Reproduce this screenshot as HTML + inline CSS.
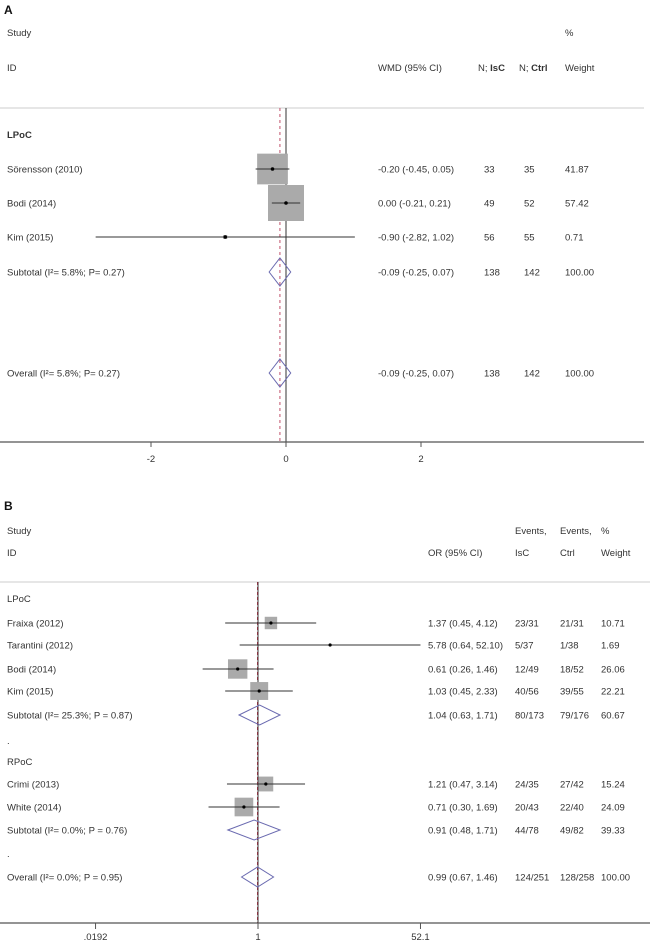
<!DOCTYPE html>
<html><head><meta charset="utf-8"><style>
html,body{margin:0;padding:0;background:#fff;width:650px;height:942px;overflow:hidden}
svg text{font-family:"Liberation Sans",sans-serif;font-size:9.5px;fill:#333}
</style></head><body>
<svg id="chart" width="650" height="942" xmlns="http://www.w3.org/2000/svg">
<g id="panelA"></g>
<g id="panelB"></g>
</svg>
<script>
// Panel A data
const aLabels = ["Sörensson  (2010)", "Bodi  (2014)", "Kim (2015)"];
const aEst = [-0.20, 0.00, -0.90];
const aLo = [-0.45, -0.21, -2.82];
const aHi = [0.05, 0.21, 1.02];
const aText = ["-0.20 (-0.45, 0.05)", "0.00 (-0.21, 0.21)", "-0.90 (-2.82, 1.02)"];
const aNIsc = ["33", "49", "56"];
const aNCtrl = ["35", "52", "55"];
const aWeight = [41.87, 57.42, 0.71];
const aSub = [-0.09, -0.25, 0.07];
const aTicks = [-2, 0, 2];
// Panel B data
const bLabels = ["Fraixa (2012)", "Tarantini  (2012)", "Bodi  (2014)", "Kim (2015)", "Crimi  (2013)", "White (2014)"];
const bEst = [1.37, 5.78, 0.61, 1.03, 1.21, 0.71];
const bLo = [0.45, 0.64, 0.26, 0.45, 0.47, 0.30];
const bHi = [4.12, 52.10, 1.46, 2.33, 3.14, 1.69];
const bText = ["1.37 (0.45, 4.12)", "5.78 (0.64, 52.10)", "0.61 (0.26, 1.46)", "1.03 (0.45, 2.33)", "1.21 (0.47, 3.14)", "0.71 (0.30, 1.69)"];
const bEvI = ["23/31", "5/37", "12/49", "40/56", "24/35", "20/43"];
const bEvC = ["21/31", "1/38", "18/52", "39/55", "27/42", "22/40"];
const bWeight = [10.71, 1.69, 26.06, 22.21, 15.24, 24.09];
const bSub1 = [1.04, 0.63, 1.71];
const bSub2 = [0.91, 0.48, 1.71];
const bOverall = [0.99, 0.67, 1.46];
const bTicks = [0.0192, 1, 52.1];
const bTickLabels = [".0192", "1", "52.1"];

const NS = "http://www.w3.org/2000/svg";
function mk(parent, tag, attrs, txt){const e=document.createElementNS(NS,tag);for(const k in attrs)e.setAttribute(k,attrs[k]);if(txt!==undefined)e.textContent=txt;parent.appendChild(e);return e;}

// ---------- Panel A ----------
const A = document.getElementById('panelA');
const xA = v => 286 + v*67.5;
const aRowY = [169, 203, 237];
let t;
t=mk(A,'text',{x:4,y:14,style:'font-size:12px;font-weight:bold;fill:#111'},'A');


const aHead=[[7,36,'Study'],[565,36,'%'],[7,71,'ID'],[378,71,'WMD (95% CI)'],[565,71,'Weight']];
aHead.forEach(h=>{const e=mk(A,'text',{x:h[0],y:h[1]},h[2]);});
t=mk(A,'text',{x:478,y:71});t.innerHTML='N; <tspan font-weight="bold">IsC</tspan>';

t=mk(A,'text',{x:519,y:71});t.innerHTML='N; <tspan font-weight="bold">Ctrl</tspan>';

let l=mk(A,'line',{x1:0,y1:108,x2:644,y2:108,stroke:'#ddd','stroke-width':1.5});

t=mk(A,'text',{x:7,y:138,'font-weight':'bold'},'LPoC');

l=mk(A,'line',{x1:xA(0),y1:108,x2:xA(0),y2:442,stroke:'#333','stroke-width':1});

l=mk(A,'line',{x1:xA(aSub[0]),y1:108,x2:xA(aSub[0]),y2:442,stroke:'#c0506a','stroke-width':1,'stroke-dasharray':'3,3'});

aLabels.forEach((lab,i)=>{
  const y=aRowY[i];
  const g=mk(A,'g',{});
  
  const s=4.75*Math.sqrt(aWeight[i]);
  if(s>3){const r=mk(g,'rect',{x:xA(aEst[i])-s/2,y:y-s/2,width:s,height:s,fill:'#aaa'});
  }
  const ci=mk(g,'line',{x1:xA(aLo[i]),y1:y,x2:xA(aHi[i]),y2:y,stroke:'#333','stroke-width':1});
  
  const d=mk(g,'circle',{cx:xA(aEst[i]),cy:y,r:1.8,fill:'#000'});
  
  [[7,lab],[378,aText[i]],[484,aNIsc[i]],[524,aNCtrl[i]],[565,aWeight[i].toFixed(2)]].forEach(c=>{
    const e=mk(g,'text',{x:c[0],y:y+3.5},c[1]);});
});
function diamondA(y,name,label){
  const g=mk(A,'g',{});
  
  const p=mk(g,'polygon',{points:`${xA(aSub[1])},${y} ${xA(aSub[0])},${y-14} ${xA(aSub[2])},${y} ${xA(aSub[0])},${y+14}`,fill:'none',stroke:'#6a6ab0','stroke-width':1});
  
  [[7,label],[378,'-0.09 (-0.25, 0.07)'],[484,'138'],[524,'142'],[565,'100.00']].forEach(c=>{
    const e=mk(g,'text',{x:c[0],y:y+3.5},c[1]);});
}
diamondA(272,'subtotal-row','Subtotal  (I²= 5.8%; P= 0.27)');
diamondA(373,'overall-row','Overall  (I²= 5.8%; P= 0.27)');
l=mk(A,'line',{x1:0,y1:442,x2:644,y2:442,stroke:'#555','stroke-width':1.2});

aTicks.forEach(v=>{
  const tk=mk(A,'line',{x1:xA(v),y1:442,x2:xA(v),y2:447,stroke:'#555'});
  
  const e=mk(A,'text',{x:xA(v),y:462,'text-anchor':'middle'},String(v));
  
});

// ---------- Panel B ----------
const B = document.getElementById('panelB');
const xB = v => 258 + Math.log(v)*41.1;
const bRowY = [623, 645, 669, 691, 784, 807];
t=mk(B,'text',{x:4,y:510,style:'font-size:12px;font-weight:bold;fill:#111'},'B');

const bHead=[[7,534,'Study'],[515,534,'Events,'],[560,534,'Events,'],[601,534,'%'],[7,556,'ID'],[428,556,'OR (95% CI)'],[515,556,'IsC'],[560,556,'Ctrl'],[601,556,'Weight']];
bHead.forEach(h=>{const e=mk(B,'text',{x:h[0],y:h[1]},h[2]);});
l=mk(B,'line',{x1:0,y1:582,x2:650,y2:582,stroke:'#ddd','stroke-width':1.5});

[[602,'LPoC'],[765,'RPoC'],[744,'.'],[857,'.']].forEach(s=>{const e=mk(B,'text',{x:7,y:s[0]},s[1]);});
l=mk(B,'line',{x1:xB(1),y1:582,x2:xB(1),y2:923,stroke:'#333','stroke-width':1});

l=mk(B,'line',{x1:xB(bOverall[0]),y1:582,x2:xB(bOverall[0]),y2:923,stroke:'#7a2030','stroke-width':1,'stroke-dasharray':'3,2'});

bLabels.forEach((lab,i)=>{
  const y=bRowY[i];
  const g=mk(B,'g',{});
  
  const s=3.8*Math.sqrt(bWeight[i]);
  if(s>6){const r=mk(g,'rect',{x:xB(bEst[i])-s/2,y:y-s/2,width:s,height:s,fill:'#aaa'});
  }
  const ci=mk(g,'line',{x1:xB(bLo[i]),y1:y,x2:xB(bHi[i]),y2:y,stroke:'#333','stroke-width':1});
  
  const d=mk(g,'circle',{cx:xB(bEst[i]),cy:y,r:1.6,fill:'#000'});
  
  [[7,lab],[428,bText[i]],[515,bEvI[i]],[560,bEvC[i]],[601,bWeight[i].toFixed(2)]].forEach(c=>{
    const e=mk(g,'text',{x:c[0],y:y+3.5},c[1]);});
});
function diamondB(y,vals,name,cols){
  const g=mk(B,'g',{});
  
  const p=mk(g,'polygon',{points:`${xB(vals[1])},${y} ${xB(vals[0])},${y-10} ${xB(vals[2])},${y} ${xB(vals[0])},${y+10}`,fill:'none',stroke:'#6a6ab0','stroke-width':1});
  
  [[7,cols[0]],[428,cols[1]],[515,cols[2]],[560,cols[3]],[601,cols[4]]].forEach(c=>{
    const e=mk(g,'text',{x:c[0],y:y+3.5},c[1]);});
}
diamondB(715,bSub1,'subtotal-lpoc-row',['Subtotal  (I²= 25.3%; P = 0.87)','1.04 (0.63, 1.71)','80/173','79/176','60.67']);
diamondB(830,bSub2,'subtotal-rpoc-row',['Subtotal  (I²= 0.0%; P = 0.76)','0.91 (0.48, 1.71)','44/78','49/82','39.33']);
diamondB(877,bOverall,'overall-row',['Overall  (I²= 0.0%; P = 0.95)','0.99 (0.67, 1.46)','124/251','128/258','100.00']);
l=mk(B,'line',{x1:0,y1:923,x2:650,y2:923,stroke:'#555','stroke-width':1.2});

bTicks.forEach((v,i)=>{
  const tk=mk(B,'line',{x1:xB(v),y1:923,x2:xB(v),y2:929,stroke:'#555'});
  
  const e=mk(B,'text',{x:xB(v),y:940,'text-anchor':'middle'},bTickLabels[i]);
  
});
</script>
</body></html>
